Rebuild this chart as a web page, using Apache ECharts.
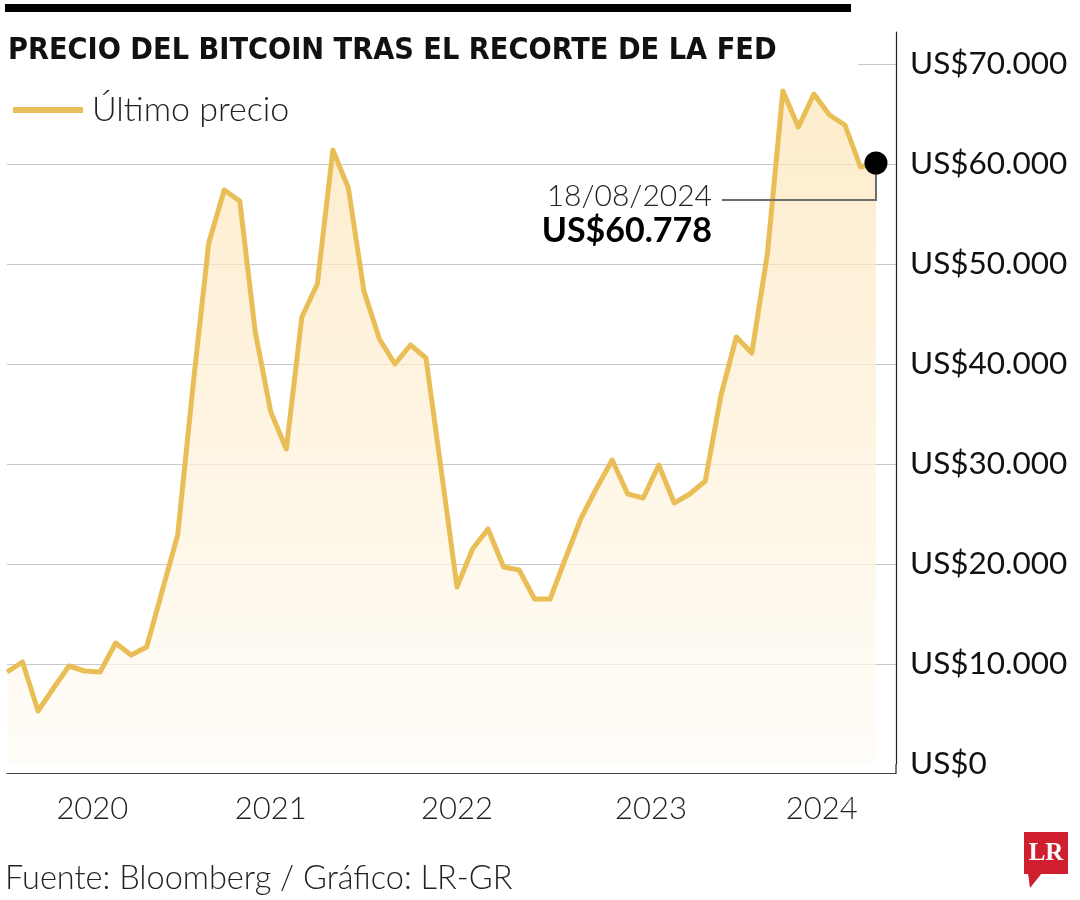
<!DOCTYPE html>
<html><head><meta charset="utf-8">
<script src="https://cdn.jsdelivr.net/npm/echarts@6/dist/echarts.min.js"></script>
<style>html,body{margin:0;padding:0;background:#fff}#c{width:1080px;height:900px}</style>
</head><body><div id="c"></div>
<script>
// Bitcoin price (US$), roughly monthly samples
const prices = [
  9200, 10200, 5300, 7600, 9800, 9300, 9200, 12100, 10900, 11700,
  17300, 22900, 38000, 52100, 57400, 56300, 43200, 35200, 31500, 44700,
  48000, 61400, 57600, 47300, 42500, 40000, 41900, 40600, 29200, 17700,
  21500, 23500, 19700, 19400, 16500, 16500, 20600, 24600, 27600, 30400,
  27000, 26600, 29900, 26100, 27000, 28300, 36800, 42700, 41100, 51000,
  67300, 63700, 67000, 64900, 63900, 59700, 60100
];
const yearTicks = { '5.5': '2020', '17': '2021', '29': '2022', '41.5': '2023', '52.5': '2024' };
const yTickValues = [0, 10000, 20000, 30000, 40000, 50000, 60000, 70000];
const seriesName = 'Último precio';
const titleText = 'PRECIO DEL BITCOIN TRAS EL RECORTE DE LA FED';
const sourceText = 'Fuente: Bloomberg / Gráfico: LR-GR';
const lastDate = '18/08/2024';
const lastValueLabel = 'US$60.778';

const lineColor = '#e9be57';
const lightFont = "Lato, 'Open Sans', sans-serif";
const titleFont = "'DejaVu Sans Condensed', Lato, sans-serif";

const chart = echarts.init(document.getElementById('c'), null, { renderer: 'canvas' });
const lastIdx = prices.length - 1;
const lineData = prices.map((v, i) => [i, v]);
const xMax = 57.29;

function fmtUS(v) {
  return 'US$' + String(v).replace(/\B(?=(\d{3})+(?!\d))/g, '.');
}

chart.setOption({
  animation: false,
  backgroundColor: '#fff',
  title: {
    text: titleText,
    left: 3, top: 31,
    textStyle: { fontFamily: titleFont, fontWeight: 'bold', fontSize: 30.3, color: '#111' },
    z: 60
  },
  legend: {
    data: [seriesName],
    left: 8, top: 88,
    icon: 'rect', itemWidth: 70, itemHeight: 6, itemGap: 10,
    textStyle: { fontFamily: lightFont, fontWeight: 300, fontSize: 34, color: '#222', padding: [0, 0, 0, 4] },
    z: 60
  },
  grid: { left: 7, right: 184, top: 32, bottom: 136, containLabel: false },
  xAxis: {
    type: 'value', min: 0, max: xMax, interval: 0.5,
    offset: 9,
    axisLine: { show: true, onZero: false, lineStyle: { color: '#444', width: 1.2 } },
    axisTick: { show: false },
    splitLine: { show: false },
    axisLabel: {
      margin: 20, fontFamily: lightFont, fontWeight: 300, fontSize: 31, color: '#222',
      formatter: v => yearTicks[String(v)] || ''
    }
  },
  yAxis: {
    type: 'value', position: 'right', min: 0, max: 73200, interval: 10000,
    axisLine: { show: true, onZero: false, lineStyle: { color: '#222', width: 1.2 } },
    axisTick: { show: false },
    splitLine: { show: true, showMaxLine: false, showMinLine: false, lineStyle: { color: '#c9c9c9', width: 1.2 } },
    axisLabel: {
      margin: 14, fontFamily: lightFont, fontSize: 31.5, color: '#111',
      showMaxLabel: false,
      formatter: v => yTickValues.indexOf(v) >= 0 ? fmtUS(v) : ''
    }
  },
  series: [
    {
      name: seriesName, type: 'line', data: lineData,
      symbol: 'none', z: 3,
      lineStyle: { color: lineColor, width: 5, join: 'round' },
      itemStyle: { color: lineColor },
      areaStyle: {
        color: new echarts.graphic.LinearGradient(0, 0, 0, 1, [
          { offset: 0, color: '#fde4b6' },
          { offset: 1, color: '#fffcf6' }
        ])
      }
    },
    {
      name: 'last', type: 'scatter', data: [[lastIdx, prices[lastIdx]]],
      symbol: 'circle', symbolSize: 23, z: 10,
      itemStyle: { color: '#000', opacity: 1 }, silent: true
    }
  ]
});

const p = chart.convertToPixel({ gridIndex: 0 }, [lastIdx, prices[lastIdx]]);
const corner = chart.convertToPixel({ gridIndex: 0 }, [xMax, 0]);
chart.setOption({
  graphic: [
    { type: 'rect', id: 'bar', shape: { x: 5, y: 4, width: 846, height: 8 }, style: { fill: '#000' }, z: 70 },
    { type: 'rect', id: 'mask', shape: { x: 0, y: 14, width: 858, height: 62 }, style: { fill: '#fff' }, z: 50 },
    { type: 'line', id: 'axisExt', z: 5,
      shape: { x1: corner[0], y1: corner[1], x2: corner[0], y2: corner[1] + 9.5 },
      style: { stroke: '#222', lineWidth: 1.2 } },
    { type: 'polyline', id: 'leader', z: 5,
      shape: { points: [[p[0], p[1]], [p[0], p[1] + 37], [p[0] - 154, p[1] + 37]] },
      style: { stroke: '#6e6e6e', lineWidth: 2, fill: null } },
    { type: 'text', id: 'ldate', z: 20, x: p[0] - 164, y: p[1] + 33,
      style: { text: lastDate, align: 'right', verticalAlign: 'middle', fontFamily: lightFont, fontWeight: 300, fontSize: 30, fill: '#222' } },
    { type: 'text', id: 'lval', z: 20, x: p[0] - 164, y: p[1] + 68,
      style: { text: lastValueLabel, align: 'right', verticalAlign: 'middle', fontFamily: lightFont, fontWeight: 'bold', fontSize: 34, fill: '#000' } },
    { type: 'text', id: 'src', z: 20, x: 5, y: 879,
      style: { text: sourceText, align: 'left', verticalAlign: 'middle', fontFamily: lightFont, fontWeight: 300, fontSize: 32.5, fill: '#222' } },
    { type: 'group', id: 'logo', x: 1024, y: 832, z: 20, children: [
      { type: 'rect', shape: { x: 0, y: 0, width: 44, height: 42 }, style: { fill: '#cf1f2e' } },
      { type: 'polygon', shape: { points: [[4, 41], [18, 41], [6, 56]] }, style: { fill: '#cf1f2e' } },
      { type: 'text', x: 22, y: 22, style: { text: 'LR', align: 'center', verticalAlign: 'middle', fontFamily: "'Liberation Serif', 'DejaVu Serif', serif", fontWeight: 'bold', fontSize: 25, fill: '#fff' } }
    ] }
  ]
});
</script>
</body></html>
